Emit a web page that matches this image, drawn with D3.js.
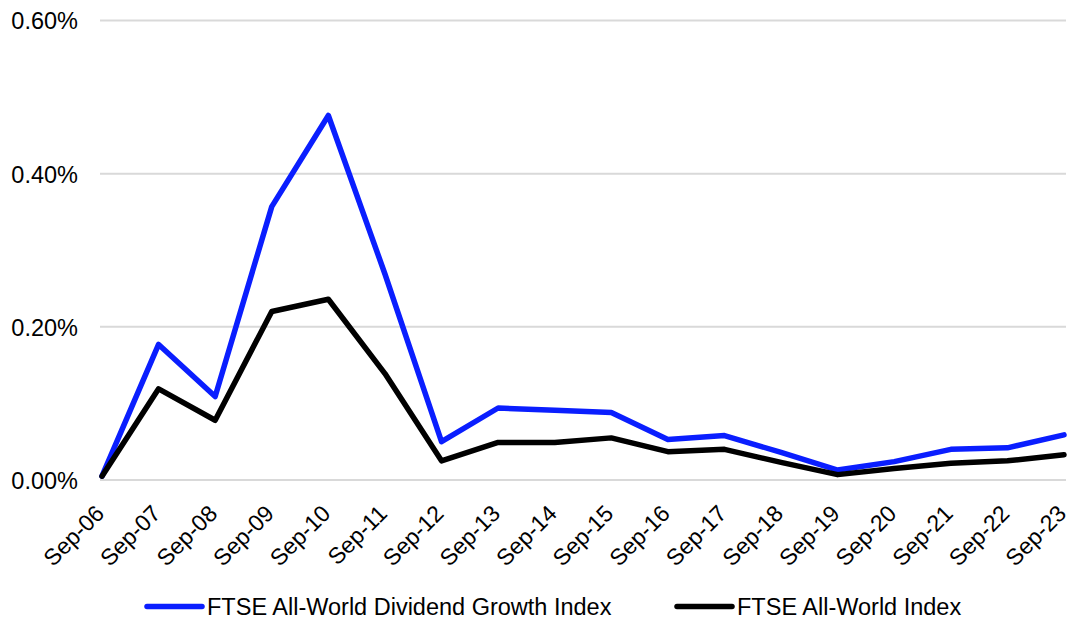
<!DOCTYPE html>
<html>
<head>
<meta charset="utf-8">
<script src="https://cdn.jsdelivr.net/npm/d3@7"></script>
<style>
  html, body { margin: 0; padding: 0; background: #fff; }
  svg { display: block; font-family: "Liberation Sans", Arial, sans-serif; }
</style>
</head>
<body>
<svg id="chart" width="1071" height="621"></svg>
<script>
// Dates (September of each year)
const categories = ["Sep-06","Sep-07","Sep-08","Sep-09","Sep-10","Sep-11","Sep-12","Sep-13","Sep-14",
                    "Sep-15","Sep-16","Sep-17","Sep-18","Sep-19","Sep-20","Sep-21","Sep-22","Sep-23"];

// Values in percent
const dividendGrowth = [0.005, 0.177, 0.109, 0.357, 0.476, 0.269, 0.050, 0.094, 0.091,
                        0.088, 0.053, 0.058, 0.036, 0.013, 0.024, 0.040, 0.042, 0.059];
const allWorld       = [0.005, 0.119, 0.078, 0.220, 0.236, 0.139, 0.025, 0.049, 0.049,
                        0.055, 0.037, 0.040, 0.023, 0.007, 0.015, 0.022, 0.025, 0.033];

const yTicks = [0, 0.2, 0.4, 0.6];

const seriesNames = ["FTSE All-World Dividend Growth Index", "FTSE All-World Index"];
const seriesColors = ["#0a1eff", "#000000"];

const svg = d3.select("#chart");

const x = d3.scalePoint().domain(categories).range([102, 1064]);
const y = d3.scaleLinear().domain([0, 0.6]).range([480, 20.5]);

// Horizontal gridlines
svg.append("g")
  .selectAll("line")
  .data(yTicks)
  .join("line")
  .attr("x1", 100).attr("x2", 1066)
  .attr("y1", d => y(d)).attr("y2", d => y(d))
  .attr("stroke", "#d9d9d9")
  .attr("stroke-width", 2);

// Y axis labels
const yAxis = d3.axisLeft(y).tickValues(yTicks).tickFormat(d => d.toFixed(2) + "%").tickSize(0).tickPadding(0);
svg.append("g")
  .attr("transform", "translate(78,0)")
  .call(yAxis)
  .call(g => g.select(".domain").remove())
  .selectAll("text")
  .attr("font-size", 23.5)
  .attr("font-family", "Liberation Sans, Arial, sans-serif")
  .attr("fill", "#000")
  .attr("dy", "0.36em");

// X axis labels, rotated
const xAxis = d3.axisBottom(x).tickSize(0).tickPadding(0);
svg.append("g")
  .attr("transform", "translate(0,480)")
  .call(xAxis)
  .call(g => g.select(".domain").remove())
  .selectAll("text")
  .attr("font-size", 23)
  .attr("font-family", "Liberation Sans, Arial, sans-serif")
  .attr("fill", "#000")
  .attr("text-anchor", "end")
  .attr("dy", null)
  .attr("y", 0)
  .attr("transform", "translate(3,35) rotate(-45)");

// Lines
const line = d3.line().x((d, i) => x(categories[i])).y(d => y(d));
[dividendGrowth, allWorld].forEach((vals, k) => {
  svg.append("path")
    .datum(vals)
    .attr("fill", "none")
    .attr("stroke", seriesColors[k])
    .attr("stroke-width", 5.5)
    .attr("stroke-linejoin", "round")
    .attr("stroke-linecap", "round")
    .attr("d", line);
});

// Legend
const legendX = [147, 677];
const legend = svg.append("g");
seriesNames.forEach((name, k) => {
  legend.append("line")
    .attr("x1", legendX[k]).attr("x2", legendX[k] + 55)
    .attr("y1", 606.5).attr("y2", 606.5)
    .attr("stroke", seriesColors[k])
    .attr("stroke-width", 5.5)
    .attr("stroke-linecap", "round");
  legend.append("text")
    .attr("x", legendX[k] + 60)
    .attr("y", 615)
    .attr("font-size", 23.5)
    .attr("fill", "#000")
    .text(name);
});
</script>
</body>
</html>
